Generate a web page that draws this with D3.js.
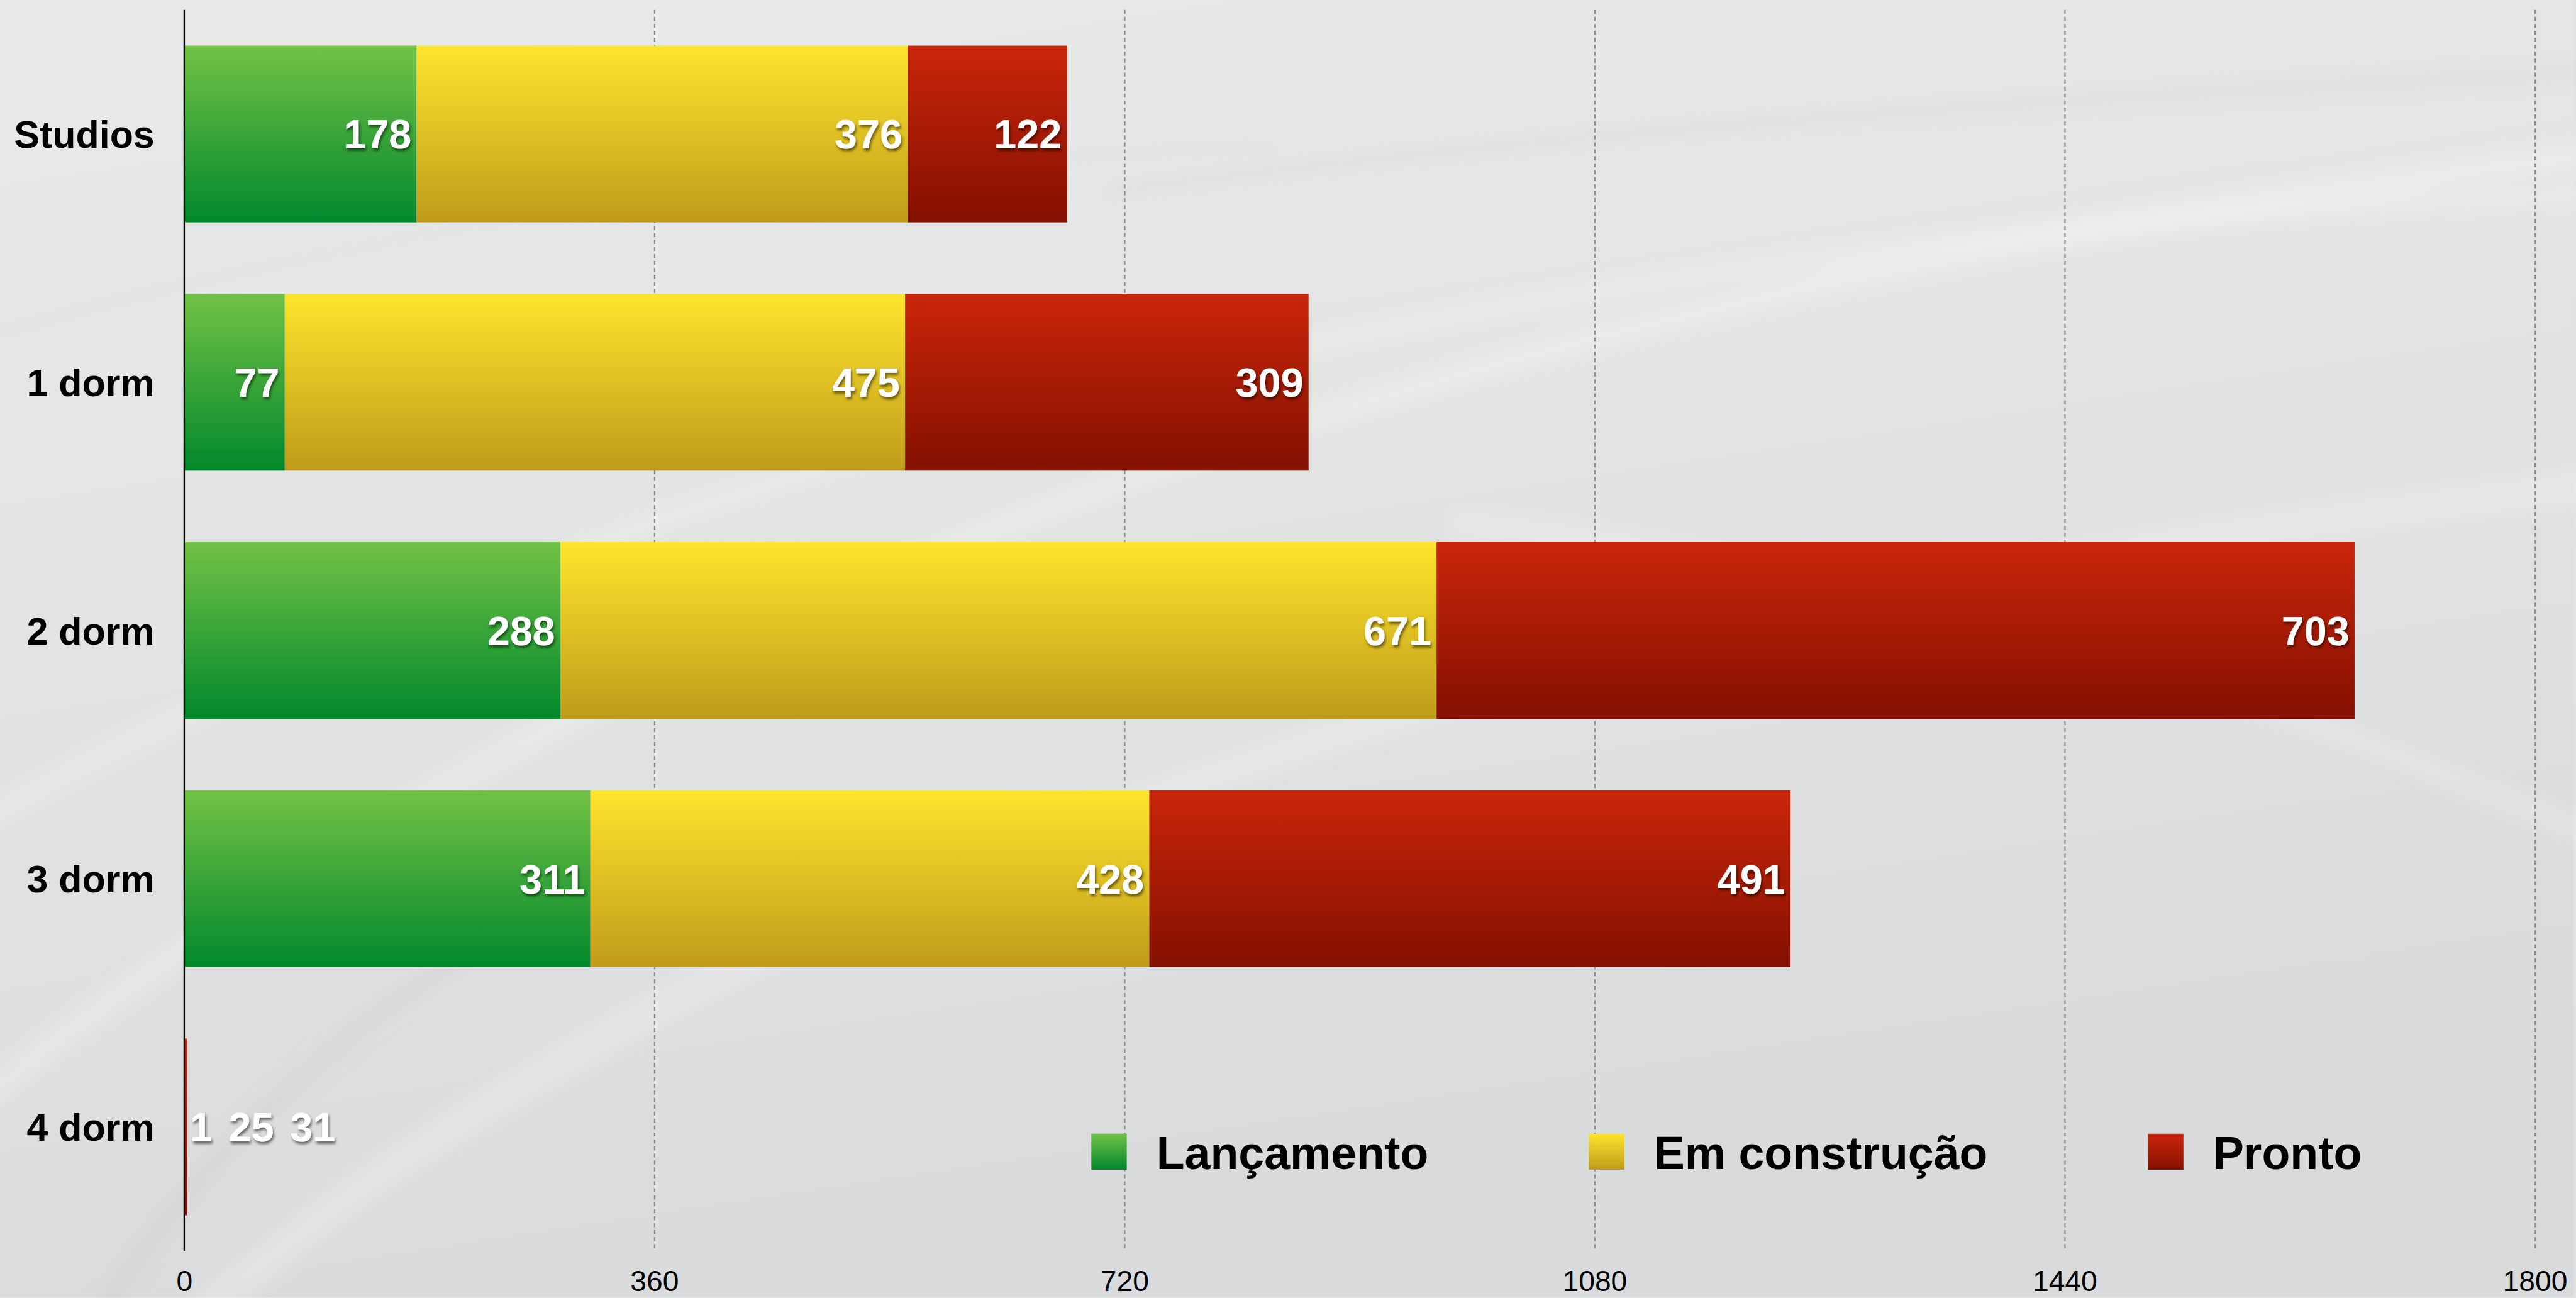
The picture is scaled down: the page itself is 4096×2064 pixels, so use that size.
<!DOCTYPE html>
<html>
<head>
<meta charset="utf-8">
<script src="https://cdn.jsdelivr.net/npm/d3@7"></script>
<style>
  html, body { margin: 0; padding: 0; overflow: hidden; background: #e1e2e2; }
  text { font-family: "Liberation Sans", Arial, Helvetica, sans-serif; }
</style>
</head>
<body>
<svg id="chart"></svg>
<script>
const W = 4429
const H = 2232
const SCALE = 0.924

const CATEGORIES = ['Studios', '1 dorm', '2 dorm', '3 dorm', '4 dorm']
const SERIES = ['Lançamento', 'Em construção', 'Pronto']
const LANCAMENTO = [178, 77, 288, 311, 1]
const CONSTRUCAO = [376, 475, 671, 428, 25]
const PRONTO = [122, 309, 703, 491, 31]
// 4 dorm: the picture only shows a thin red sliver, the labels sit after it
const SLIVER_ROW = '4 dorm'
const SLIVER_DRAWN = [0, 0, 2]
const X_TICKS = [0, 360, 720, 1080, 1440, 1800]

const GRADIENTS = [
  ['#72c245', '#01882c'],
  ['#fde52c', '#bf9b1a'],
  ['#ca260a', '#831000']
]

const svg = d3.select('#chart').attr('width', 4096).attr('height', 2064)
const defs = svg.append('defs')

// gradients des barres
GRADIENTS.forEach((c, i) => {
  const g = defs.append('linearGradient').attr('id', 'grad' + i)
    .attr('x1', 0).attr('y1', 0).attr('x2', 0).attr('y2', 1)
  g.append('stop').attr('offset', '0%').attr('stop-color', c[0])
  g.append('stop').attr('offset', '100%').attr('stop-color', c[1])
})

const bgGrad = defs.append('linearGradient').attr('id', 'bg')
  .attr('x1', 0).attr('y1', 0).attr('x2', 0.3).attr('y2', 1)
bgGrad.append('stop').attr('offset', '0%').attr('stop-color', '#e8e9e9')
bgGrad.append('stop').attr('offset', '60%').attr('stop-color', '#e0e1e1')
bgGrad.append('stop').attr('offset', '100%').attr('stop-color', '#d9dadb')

const shadow = defs.append('filter').attr('id', 'shadow')
  .attr('x', '-20%').attr('y', '-20%').attr('width', '140%').attr('height', '140%')
shadow.append('feDropShadow').attr('dx', 2).attr('dy', 4).attr('stdDeviation', 2.5)
  .attr('flood-color', '#000').attr('flood-opacity', 0.55)

const blur = defs.append('filter').attr('id', 'blur')
  .attr('x', '-10%').attr('y', '-10%').attr('width', '120%').attr('height', '120%')
blur.append('feGaussianBlur').attr('stdDeviation', 14)

const root = svg.append('g').attr('transform', `scale(${SCALE})`)

// fond
root.append('rect').attr('width', W).attr('height', H).attr('fill', 'url(#bg)')
const swooshes = [
  ['M-100,1950 Q1500,600 4600,250', '#ffffff', 50, 0.22],
  ['M-100,1450 Q1700,420 4600,330', '#ffffff', 36, 0.2],
  ['M300,2300 Q1600,1150 4600,820', '#ffffff', 60, 0.2],
  ['M1900,330 Q3000,180 4600,120', '#b9babb', 10, 0.3],
  ['M-100,600 Q900,300 2200,250', '#cfd0d1', 12, 0.25],
  ['M2500,900 Q3500,1000 4600,1500', '#ffffff', 40, 0.18],
  ['M150,2300 Q500,1700 1300,1400', '#c4c5c6', 30, 0.25]
]
root.append('g').attr('filter', 'url(#blur)')
  .selectAll('path').data(swooshes).enter().append('path')
  .attr('d', d => d[0]).attr('fill', 'none')
  .attr('stroke', d => d[1]).attr('stroke-width', d => d[2]).attr('opacity', d => d[3])

// echelles
const x = d3.scaleLinear().domain([0, 1800]).range([317, 4362])
const y = d3.scaleBand().domain(CATEGORIES).range([17, 2153])
  .paddingInner(0.288).paddingOuter(0.144)

// lignes de grille
const grid = d3.axisBottom(x).tickValues(X_TICKS.slice(1)).tickSize(2153 - 17).tickFormat('')
const gridEl = root.append('g').attr('transform', 'translate(0,17)').call(grid)
gridEl.select('.domain').remove()
gridEl.selectAll('.tick line').attr('stroke', '#8f8f8f').attr('stroke-width', 2.5)
  .attr('stroke-dasharray', '7,5')

// barres empilees
const values = [LANCAMENTO, CONSTRUCAO, PRONTO]
const rows = CATEGORIES.map((cat, i) => {
  const drawn = cat === SLIVER_ROW ? SLIVER_DRAWN : values.map(v => v[i])
  let acc = 0
  return drawn.map((v, j) => {
    const seg = { cat, j, x0: acc, x1: acc + v, label: values[j][i] }
    acc += v
    return seg
  })
})

const segs = rows.flat()
root.append('g').selectAll('rect').data(segs.filter(d => d.x1 > d.x0)).enter().append('rect')
  .attr('x', d => x(d.x0))
  .attr('y', d => y(d.cat))
  .attr('width', d => x(d.x1) - x(d.x0))
  .attr('height', y.bandwidth())
  .attr('fill', d => `url(#grad${d.j})`)

// axe vertical
root.append('line').attr('x1', 317).attr('x2', 317).attr('y1', 17).attr('y2', 2153)
  .attr('stroke', '#000').attr('stroke-width', 2.5)

// etiquettes des valeurs
const labels = root.append('g').attr('filter', 'url(#shadow)')
  .attr('font-size', 70).attr('font-weight', 'bold').attr('fill', '#fff')
rows.forEach(row => {
  const cy = y(row[0].cat) + y.bandwidth() / 2
  if (row[0].cat === SLIVER_ROW) {
    let px = x(row[row.length - 1].x1) + 5
    row.forEach(d => {
      const t = labels.append('text').attr('x', px).attr('y', cy).attr('dy', '0.36em')
        .attr('text-anchor', 'start').text(d.label)
      px += t.node().getComputedTextLength() + 28
    })
  } else {
    row.forEach(d => {
      labels.append('text').attr('x', x(d.x1) - 9).attr('y', cy).attr('dy', '0.36em')
        .attr('text-anchor', 'end').text(d.label)
    })
  }
})

// categories a gauche
const yAxis = d3.axisLeft(y).tickSize(0).tickPadding(0)
const yAxisEl = root.append('g').attr('transform', 'translate(266,0)').call(yAxis)
yAxisEl.select('.domain').remove()
yAxisEl.selectAll('.tick text').attr('font-size', 66).attr('font-weight', 'bold')
  .attr('fill', '#000').attr('font-family', null).attr('dy', '0.36em')

// axe horizontal (etiquettes seulement)
const xAxis = d3.axisBottom(x).tickValues(X_TICKS).tickFormat(d3.format('d'))
  .tickSize(0).tickPadding(0)
const xAxisEl = root.append('g').attr('transform', 'translate(0,2222)').call(xAxis)
xAxisEl.select('.domain').remove()
xAxisEl.selectAll('.tick text').attr('font-size', 50).attr('fill', '#000')
  .attr('font-family', null).attr('dy', 0)

// legende
const legend = root.append('g')
let lx = 1878
SERIES.forEach((name, i) => {
  legend.append('rect').attr('x', lx).attr('y', 1951).attr('width', 61).attr('height', 62)
    .attr('fill', `url(#grad${i})`)
  const t = legend.append('text').attr('x', lx + 112).attr('y', 2012)
    .attr('font-size', 79.5).attr('font-weight', 'bold').attr('fill', '#000').text(name)
  lx += 112 + t.node().getComputedTextLength() + 276
})
</script>
</body>
</html>
